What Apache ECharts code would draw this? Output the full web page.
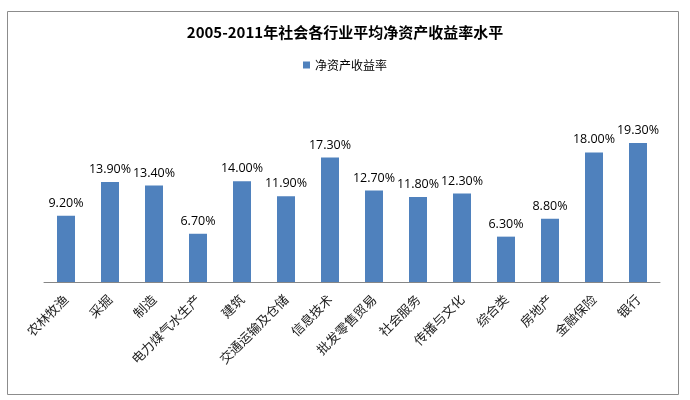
<!DOCTYPE html>
<html><head><meta charset="utf-8">
<script src="https://cdn.jsdelivr.net/npm/echarts@6/dist/echarts.min.js"></script>
<style>html,body{margin:0;padding:0;background:#fff;}#c{width:690px;height:400px;}</style>
</head><body><div id="c"></div>
<script>
var categories = ['农林牧渔','采掘','制造','电力煤气水生产','建筑','交通运输及仓储','信息技术','批发零售贸易','社会服务','传播与文化','综合类','房地产','金融保险','银行'];
var roeValues = [9.2, 13.9, 13.4, 6.7, 14.0, 11.9, 17.3, 12.7, 11.8, 12.3, 6.3, 8.8, 18.0, 19.3];
var seriesName = '净资产收益率';
var titleText = '2005-2011年社会各行业平均净资产收益率水平';

var chart = echarts.init(document.getElementById('c'));
chart.setOption({
  animation: false,
  backgroundColor: '#fff',
  graphic: [{type:'rect', shape:{x:7.5,y:11.5,width:671,height:383}, style:{fill:'none', stroke:'#8c8c8c', lineWidth:1}}],
  title: {text: titleText, left: 'center', top: 20,
    textStyle:{fontFamily:'"Noto Sans CJK SC", sans-serif', fontSize:15, fontWeight:'bold', color:'#000'}},
  legend: {data:[seriesName], top: 54, left: 'center', icon:'rect', itemWidth:7, itemHeight:7, itemGap:4,
    textStyle:{fontFamily:'"Noto Sans CJK SC", sans-serif', fontSize:12, color:'#000'}},
  grid: {left: 44, right: 30, top: 102, bottom: 118, containLabel:false},
  xAxis: {type:'category', data: categories,
    axisLine:{lineStyle:{color:'#868686'}}, axisTick:{show:false},
    axisLabel:{rotate:45, interval:0, fontSize:13, color:'#222', margin:15,
      fontFamily:'"Noto Sans CJK SC", serif'}},
  yAxis: {type:'value', min:0, max:25, show:false, splitLine:{show:false}},
  series: [{name: seriesName, type:'bar', data: roeValues, barWidth:18,
    itemStyle:{color:'#4F81BD'},
    label:{show:true, position:'top', distance:6, fontSize:12.5, color:'#000',
      fontFamily:'"Open Sans", "DejaVu Sans", sans-serif',
      formatter: function(p){ return p.value.toFixed(2) + '%'; }}}]
});
</script></body></html>
